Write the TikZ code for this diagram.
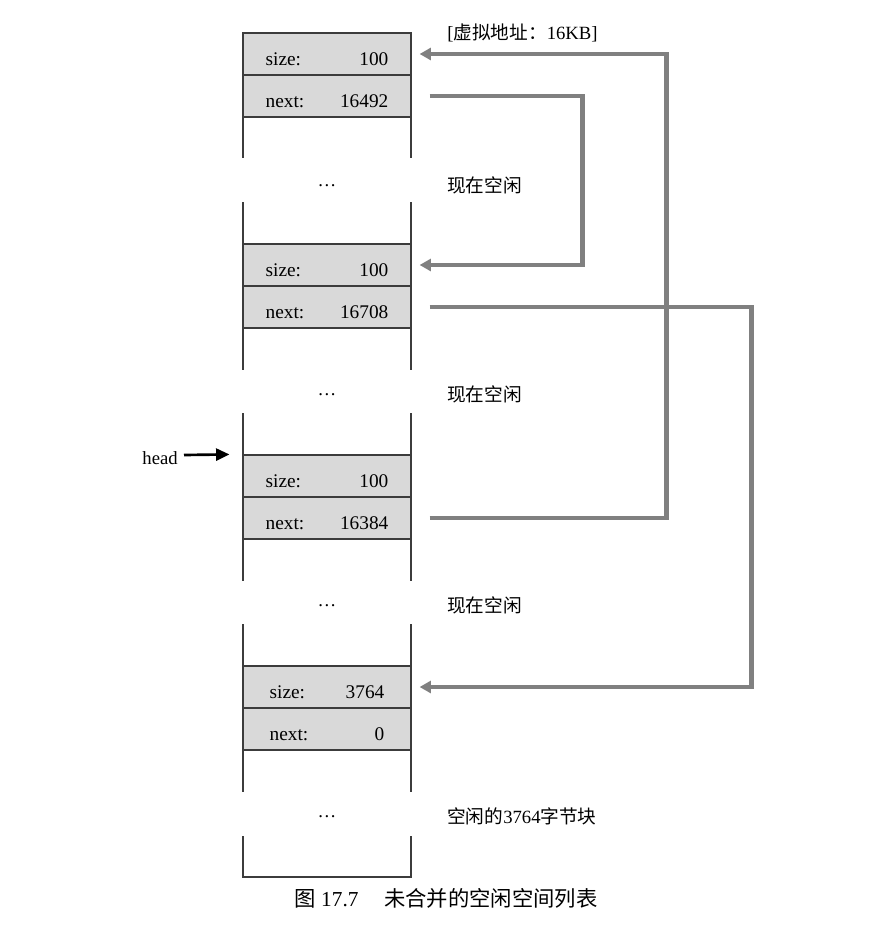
\documentclass[tikz,border=0pt]{standalone}
\usepackage{fontspec}
\setmainfont{Liberation Serif}
\newfontfamily\cjk{Noto Sans CJK SC}
\usetikzlibrary{arrows.meta,calc}
\definecolor{cellfill}{RGB}{217,217,217}
\definecolor{cellline}{RGB}{60,60,60}
\definecolor{arrowgray}{RGB}{128,128,128}
\newcommand{\celltext}[3]{\raisebox{-5pt}{\makebox[#1]{#2\hfill #3}}}
\begin{document}
\begin{tikzpicture}[x=0.75pt,y=-0.75pt,
  cell/.style={draw=cellline,line width=0.9pt,fill=cellfill,minimum width=126pt,minimum height=31.5pt,inner sep=0pt,text height=10pt,text depth=3pt,font=\fontsize{14.5}{16}\selectfont},
  side/.style={draw=cellline,line width=0.9pt},
  garrow/.style={draw=arrowgray,line width=3.3pt,line join=miter,-{Triangle[length=8.5pt,width=9pt]}},
  lbl/.style={anchor=west,inner sep=0pt,font=\fontsize{14}{16}\selectfont},
  dots/.style={inner sep=0pt,font=\fontsize{14}{16}\selectfont}]
\useasboundingbox (0,0) rectangle (881,932);
% column sides
\draw[side] (243,33) -- (243,158) (411,33) -- (411,158);
\draw[side] (243,202) -- (243,370) (411,202) -- (411,370);
\draw[side] (243,413) -- (243,581) (411,413) -- (411,581);
\draw[side] (243,624) -- (243,792) (411,624) -- (411,792);
\draw[side] (243,836) -- (243,877) -- (411,877) -- (411,836);
% cells
\node[cell] (s1) at (327,54) {\celltext{92pt}{size:}{100}};
\node[cell] (n1) at (327,96) {\celltext{92pt}{next:}{16492}};
\node[cell] (s2) at (327,265) {\celltext{92pt}{size:}{100}};
\node[cell] (n2) at (327,307) {\celltext{92pt}{next:}{16708}};
\node[cell] (s3) at (327,476) {\celltext{92pt}{size:}{100}};
\node[cell] (n3) at (327,518) {\celltext{92pt}{next:}{16384}};
\node[cell] (s4) at (327,687) {\celltext{86pt}{size:}{3764}};
\node[cell] (n4) at (327,729) {\celltext{86pt}{next:}{0}};
% dots
\node[dots] (d1) at (327,186) {\ldots};
\node[dots] (d2) at (327,395) {\ldots};
\node[dots] (d3) at (327,606) {\ldots};
\node[dots] (d4) at (327,817) {\ldots};
% right labels
\node[lbl] (top) at (447,33) {[{\cjk 虚拟地址：}16KB]};
\node[lbl] (f1) at (447,185) {\cjk 现在空闲};
\node[lbl] (f2) at (447,394) {\cjk 现在空闲};
\node[lbl] (f3) at (447,605) {\cjk 现在空闲};
\node[lbl] (f4) at (447,816) {{\cjk 空闲的}3764{\cjk 字节块}};
% head
\node[anchor=east,inner sep=0pt,font=\fontsize{14}{16}\selectfont] (head) at (178,458) {head};
\draw[line width=2pt,-{Triangle[length=10pt,width=9pt]}] ($(head.east)+(6,-3)$) -- ($(s3.north west)+(-13,0)$);
% arrows
\draw[garrow] ($(n1.east)+(18,0)$) -- ++(153,0) |- ($(s2.east)+(8,0)$);
\draw[garrow] ($(n2.east)+(18,0)$) -- ++(322,0) |- ($(s4.east)+(8,0)$);
\draw[garrow] ($(n3.east)+(18,0)$) -- ++(237,0) |- ($(s1.east)+(8,0)$);
% caption
\node[inner sep=0pt,font=\fontsize{16}{18}\selectfont] (cap) at (446,898) {{\cjk 图} 17.7\hspace{1.2em}{\cjk 未合并的空闲空间列表}};
\end{tikzpicture}
\end{document}
